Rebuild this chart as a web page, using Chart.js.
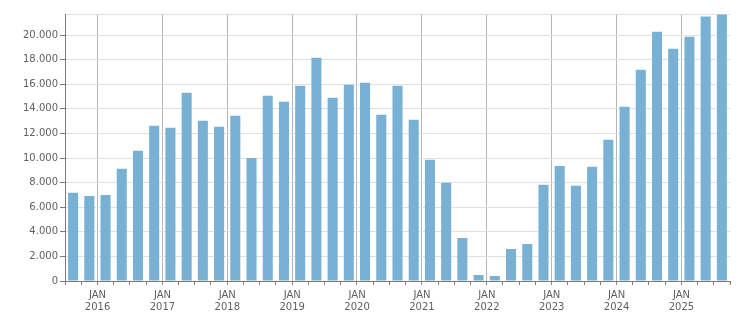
<!DOCTYPE html>
<html>
<head>
<meta charset="utf-8">
<script src="https://cdn.jsdelivr.net/npm/chart.js@4/dist/chart.umd.min.js"></script>
<style>
    body { margin: 0; background: #ffffff; }
    #caixa { width: 751px; height: 313px; }
</style>
</head>
<body>
<div id="caixa"><canvas id="grafico"></canvas></div>
<script>
const trimestres = [
    '2015-Q3', '2015-Q4',
    '2016-Q1', '2016-Q2', '2016-Q3', '2016-Q4',
    '2017-Q1', '2017-Q2', '2017-Q3', '2017-Q4',
    '2018-Q1', '2018-Q2', '2018-Q3', '2018-Q4',
    '2019-Q1', '2019-Q2', '2019-Q3', '2019-Q4',
    '2020-Q1', '2020-Q2', '2020-Q3', '2020-Q4',
    '2021-Q1', '2021-Q2', '2021-Q3', '2021-Q4',
    '2022-Q1', '2022-Q2', '2022-Q3', '2022-Q4',
    '2023-Q1', '2023-Q2', '2023-Q3', '2023-Q4',
    '2024-Q1', '2024-Q2', '2024-Q3', '2024-Q4',
    '2025-Q1', '2025-Q2', '2025-Q3'
];

const valores = [
    7170, 6920,
    7000, 9120, 10590, 12620,
    12460, 15310, 13030, 12540,
    13430, 10010, 15060, 14570,
    15880, 18160, 14900, 15960,
    16120, 13520, 15880, 13110,
    9850, 7980, 3500, 490,
    410, 2600, 3010, 7820,
    9360, 7740, 9280, 11480,
    14170, 17180, 20270, 18890,
    19870, 21500, 21660
];

// marcas do eixo y
const ticksY = [0, 2000, 4000, 6000, 8000, 10000, 12000, 14000, 16000, 18000, 20000];
const yMax = 21710;
const rotuloMes = 'JAN';

function formatarMilhar(v) {
    return String(v).replace(/\B(?=(\d{3})+(?!\d))/g, '.');
}

function inicioDeAno(i) {
    return trimestres[i] !== undefined && trimestres[i].endsWith('Q1');
}

Chart.defaults.font.family = '"DejaVu Sans", Verdana, sans-serif';
Chart.defaults.font.size = 10;
Chart.defaults.color = '#606060';

const config = {
    type: 'bar',
    data: {
        labels: trimestres,
        datasets: [{
            data: valores,
            backgroundColor: '#78b1d3',
            barPercentage: 0.62,
            categoryPercentage: 1
        }]
    },
    options: {
        responsive: true,
        maintainAspectRatio: false,
        animation: false,
        layout: {
            padding: { left: 0, right: 21, top: 14, bottom: 0 }
        },
        plugins: {
            legend: { display: false },
            tooltip: { enabled: false }
        },
        scales: {
            x: {
                grid: {
                    offset: true,
                    tickLength: 4,
                    color: (ctx) => {
                        if (ctx.index === trimestres.length) return '#e0e0e0';
                        return inicioDeAno(ctx.index) ? '#b4b4b4' : 'rgba(0,0,0,0)';
                    },
                    tickColor: (ctx) => inicioDeAno(ctx.index) ? '#8a8a8a' : '#808080'
                },
                border: { color: '#7a7a7a', width: 1 },
                ticks: {
                    autoSkip: false,
                    maxRotation: 0,
                    minRotation: 0,
                    labelOffset: -8,
                    padding: 4,
                    font: { lineHeight: 1.25 },
                    callback: function (valor, indice) {
                        if (!inicioDeAno(indice)) return '';
                        return [rotuloMes, trimestres[indice].slice(0, 4)];
                    }
                },
                afterFit: (escala) => { escala.height = 32; }
            },
            y: {
                min: 0,
                max: yMax,
                grid: {
                    color: '#e0e0e0',
                    tickLength: 5,
                    tickColor: (ctx) => (ctx.tick && ctx.tick.value !== yMax) ? '#7a7a7a' : 'rgba(0,0,0,0)'
                },
                border: { color: '#7a7a7a', width: 1 },
                ticks: {
                    padding: 2,
                    callback: (v) => v === yMax ? '' : formatarMilhar(v)
                },
                afterBuildTicks: (escala) => {
                    escala.ticks = ticksY.concat([yMax]).map(v => ({ value: v }));
                },
                afterFit: (escala) => { escala.width = 65; }
            }
        }
    }
};

const grafico = new Chart(document.getElementById('grafico'), config);
</script>
</body>
</html>
